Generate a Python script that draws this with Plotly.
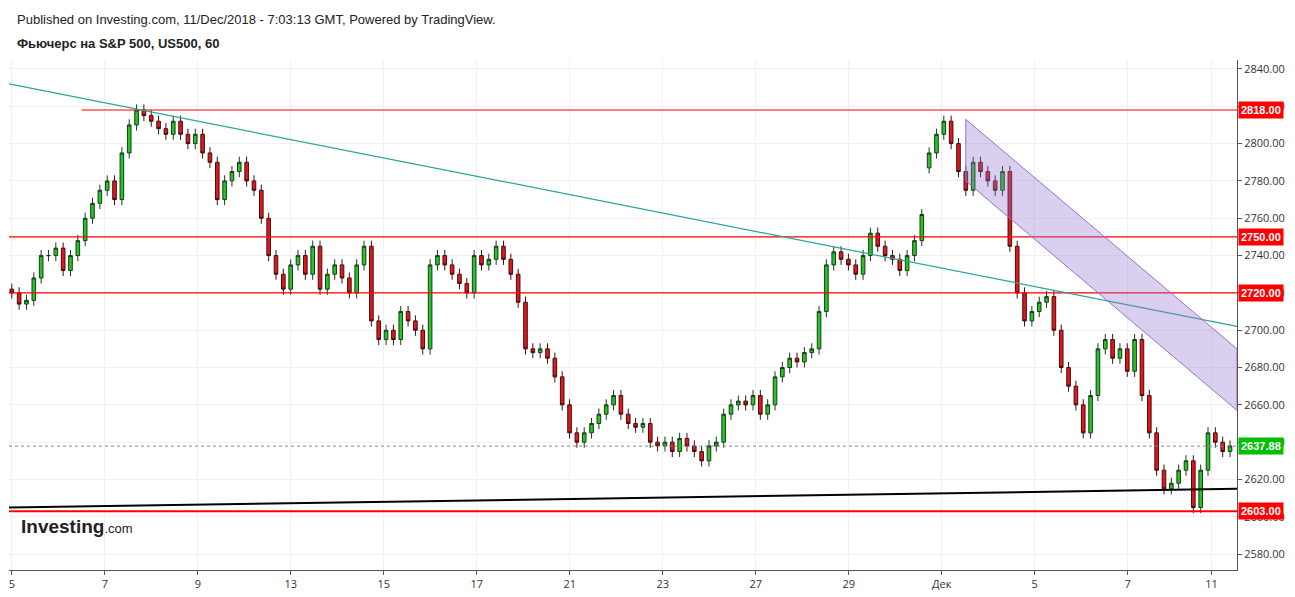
import numpy as np
import plotly.graph_objects as go

# approximate closes (about 4 trading hours each)
CLOSES = [2720, 2714, 2716, 2728, 2740, 2740, 2744, 2732, 2740, 2748,
          2760, 2768, 2775, 2780, 2770, 2795, 2810, 2818, 2815, 2812,
          2808, 2805, 2812, 2805, 2800, 2805, 2795, 2790, 2770, 2780,
          2785, 2790, 2780, 2775, 2760, 2740, 2730, 2722, 2735, 2740,
          2730, 2745, 2722, 2730, 2735, 2728, 2720, 2735, 2745, 2705,
          2695, 2700, 2695, 2710, 2705, 2700, 2690, 2735, 2740, 2735,
          2730, 2725, 2720, 2740, 2735, 2738, 2745, 2738, 2730, 2715,
          2690, 2688, 2690, 2685, 2675, 2660, 2645, 2640, 2645, 2650,
          2655, 2660, 2665, 2655, 2650, 2648, 2650, 2640, 2638, 2640,
          2635, 2642, 2638, 2635, 2630, 2638, 2640, 2655, 2660, 2662,
          2660, 2665, 2655, 2660, 2675, 2680, 2685, 2683, 2688, 2690,
          2710, 2735, 2742, 2738, 2735, 2730, 2740, 2752, 2745, 2740,
          2738, 2732, 2740, 2748, 2762,
          2795, 2805, 2812, 2800, 2785, 2775, 2790, 2785, 2780, 2775,
          2785, 2745, 2720, 2705, 2710, 2715, 2718, 2700, 2680, 2670,
          2660, 2645, 2665, 2690, 2695, 2685, 2690, 2678, 2695, 2665,
          2645, 2625, 2615, 2618, 2625, 2630, 2605, 2625, 2645, 2640,
          2635, 2638]
OPEN_FIRST = 2722
WICK = 3

TICK_POS = [0, 2, 4, 6, 8, 10, 12, 14, 16, 18, 20, 22, 24, 25.8]
TICK_TEXT = ['5', '7', '9', '13', '15', '17', '21', '23', '27', '29', 'Дек', '5', '7', '11']

LEVELS = [2818, 2750, 2720]
SUPPORT = 2603
LAST = 2637.88

closes = np.array(CLOSES, dtype=float)
opens = np.concatenate([[OPEN_FIRST], closes[:-1]])
opens[125] = 2795 - 8  # weekend gap open
highs = np.maximum(opens, closes) + WICK
lows = np.minimum(opens, closes) - WICK
x = np.linspace(0, 26.2, len(closes))

fig = go.Figure(go.Candlestick(
    x=x, open=opens, high=highs, low=lows, close=closes,
    increasing=dict(fillcolor='#22c722', line=dict(color='#1a3a1a', width=1)),
    decreasing=dict(fillcolor='#e8141a', line=dict(color='#3a1010', width=1)),
    whiskerwidth=0, showlegend=False, hoverinfo='skip'))

x0, x1 = -0.06, 26.35
for lv in LEVELS:
    fig.add_shape(type='line', x0=1.5 if lv == 2818 else x0, x1=x1, y0=lv, y1=lv,
                  line=dict(color='#ff0000', width=1.2))
fig.add_shape(type='line', x0=x0, x1=x1, y0=SUPPORT, y1=SUPPORT, line=dict(color='#ff0000', width=2))
fig.add_shape(type='line', x0=x0, x1=x1, y0=LAST, y1=LAST, line=dict(color='#888', width=1, dash='dot'))
fig.add_shape(type='line', x0=x0, x1=x1, y0=2832, y1=2702, line=dict(color='#26a69a', width=1.2))
fig.add_shape(type='line', x0=x0, x1=x1, y0=2605, y1=2615, line=dict(color='#000', width=2))
# descending channel
cx0 = (965 - 11) / 46.5
fig.add_shape(type='path',
              path=f'M {cx0},2813 L {x1},2690 L {x1},2657 L {cx0},2780 Z',
              fillcolor='rgba(149,117,205,0.35)', line=dict(color='#9575cd', width=1))

for lv, col in [(2818, '#ff0000'), (2750, '#ff0000'), (2720, '#ff0000'),
                (LAST, '#00c000'), (SUPPORT, '#ff0000')]:
    fig.add_annotation(x=1, xref='paper', y=lv, yref='y', xanchor='left', text=f'<b>{lv:.2f}</b>',
                       showarrow=False, bgcolor=col, font=dict(color='white', size=11, family='Arial'),
                       borderpad=2, xshift=1)

fig.add_annotation(x=0, y=1.0, xref='paper', yref='paper', yshift=50, xanchor='left', showarrow=False,
                   text='Published on Investing.com, 11/Dec/2018 - 7:03:13 GMT, Powered by TradingView.',
                   font=dict(size=13, color='#222', family='Arial'), xshift=6)
fig.add_annotation(x=0, y=1.0, xref='paper', yref='paper', yshift=26, xanchor='left', showarrow=False,
                   text='<b>Фьючерс на S&P 500, US500, 60</b>',
                   font=dict(size=13, color='#222', family='Arial'), xshift=6)
fig.add_annotation(x=0, y=0.06, xref='paper', yref='paper', xanchor='left', showarrow=False, xshift=10,
                   text='<b>Investing</b><span style="font-size:13px">.com</span>',
                   font=dict(size=19, color='#222', family='Arial'))

fig.update_layout(
    width=1287, height=589, margin=dict(l=1, r=58, t=52, b=27),
    plot_bgcolor='white', paper_bgcolor='white',
    xaxis=dict(range=[x0, x1], rangeslider=dict(visible=False), tickvals=TICK_POS, ticktext=TICK_TEXT,
               showgrid=True, gridcolor='#f0f0f0', zeroline=False, showline=True, linecolor='#555',
               ticks='outside', ticklen=4, tickcolor='#555', tickfont=dict(size=11, color='#333')),
    yaxis=dict(side='right', range=[2571.5, 2844.8], dtick=20, tickformat='.2f',
               showgrid=True, gridcolor='#f0f0f0', zeroline=False, showline=True, linecolor='#555',
               ticks='outside', ticklen=4, tickcolor='#555', tickfont=dict(size=11, color='#333')),
)
fig.write_html('out.html')
